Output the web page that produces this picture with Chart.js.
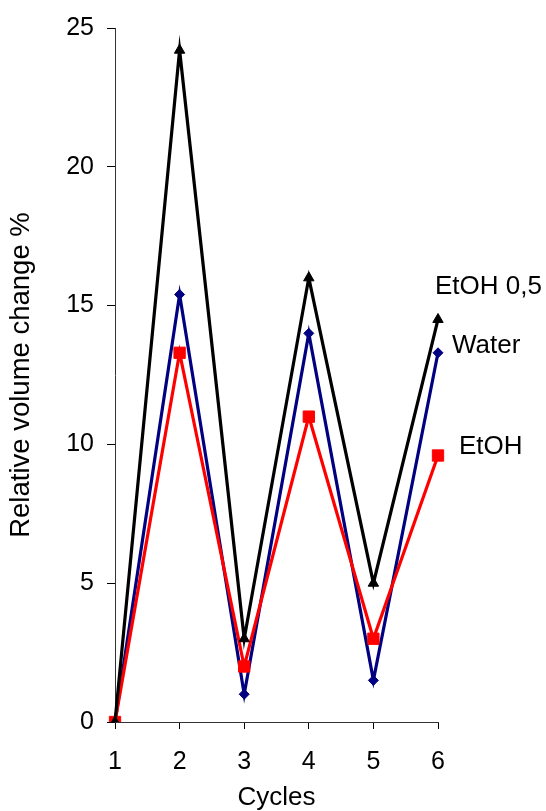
<!DOCTYPE html>
<html>
<head>
<meta charset="utf-8">
<script src="https://cdn.jsdelivr.net/npm/chart.js@4"></script>
<style>
  body { margin: 0; background: #fff; }
  #wrap { width: 546px; height: 811px; position: relative; }
</style>
</head>
<body>
<div id="wrap"><canvas id="chart"></canvas></div>
<script>
const cycles = ['1', '2', '3', '4', '5', '6'];
const etoh05 = [0, 24.2, 3, 16, 5, 14.5];
const water = [0, 15.4, 1, 14, 1.5, 13.3];
const etoh = [0, 13.3, 2, 11, 3, 9.6];
const yTicks = [0, 5, 10, 15, 20, 25];

const FONT = 'Liberation Sans, Arial, sans-serif';

// names written next to the end of each line
const endLabels = {
  id: 'endLabels',
  afterDatasetsDraw(chart) {
    const ctx = chart.ctx;
    const x = chart.scales.x;
    const y = chart.scales.y;
    const spots = [
      { text: 'EtOH 0,5', data: etoh05, dx: -3, dy: -33 },
      { text: 'Water', data: water, dx: 14, dy: -7 },
      { text: 'EtOH', data: etoh, dx: 21, dy: -9 }
    ];
    ctx.save();
    ctx.font = '26px ' + FONT;
    ctx.fillStyle = '#000';
    ctx.textAlign = 'left';
    ctx.textBaseline = 'middle';
    spots.forEach(s => {
      const i = s.data.length - 1;
      ctx.fillText(s.text, x.getPixelForValue(i) + s.dx, y.getPixelForValue(s.data[i]) + s.dy);
    });
    ctx.restore();
  }
};

new Chart(document.getElementById('chart').getContext('2d'), {
  type: 'line',
  data: {
    labels: cycles,
    datasets: [
      {
        label: 'EtOH 0,5',
        data: etoh05,
        borderColor: '#000000',
        backgroundColor: '#000000',
        borderWidth: 3.2,
        pointStyle: 'triangle',
        pointRadius: 6,
        pointBorderWidth: 1,
        tension: 0
      },
      {
        label: 'EtOH',
        data: etoh,
        borderColor: '#ff0000',
        backgroundColor: '#ff0000',
        borderWidth: 3.2,
        pointStyle: 'rect',
        pointRadius: 8,
        pointBorderWidth: 1,
        tension: 0
      },
      {
        label: 'Water',
        data: water,
        borderColor: '#000080',
        backgroundColor: '#000080',
        borderWidth: 3.2,
        pointStyle: 'rectRot',
        pointRadius: 5,
        pointBorderWidth: 1,
        tension: 0
      }
    ]
  },
  options: {
    responsive: true,
    maintainAspectRatio: false,
    animation: false,
    layout: { padding: { top: 20, right: 108, bottom: 0, left: 0 } },
    plugins: {
      legend: { display: false },
      tooltip: { enabled: false }
    },
    scales: {
      x: {
        type: 'category',
        offset: false,
        grid: { display: true, drawOnChartArea: false, drawTicks: true, tickLength: 7, color: '#000' },
        border: { display: true, color: '#333', width: 1 },
        ticks: { color: '#000', font: { family: FONT, size: 25 }, padding: 18, maxRotation: 0 },
        title: {
          display: true,
          text: 'Cycles',
          color: '#000',
          font: { family: FONT, size: 26, lineHeight: 1 },
          padding: { top: 0, bottom: 0 }
        },
        afterFit(scale) { scale.height = 89; }
      },
      y: {
        min: 0,
        max: 25,
        afterBuildTicks(scale) { scale.ticks = yTicks.map(v => ({ value: v })); },
        grid: { display: true, drawOnChartArea: false, drawTicks: true, tickLength: 8, color: '#000' },
        border: { display: true, color: '#333', width: 1 },
        ticks: { color: '#000', font: { family: FONT, size: 25 }, padding: 13 },
        title: {
          display: true,
          text: 'Relative volume change %',
          color: '#000',
          font: { family: FONT, size: 27.5, lineHeight: 1 },
          padding: { top: 8, bottom: 0 }
        },
        afterFit(scale) { scale.width = 115; }
      }
    }
  },
  plugins: [endLabels]
});
</script>
</body>
</html>
